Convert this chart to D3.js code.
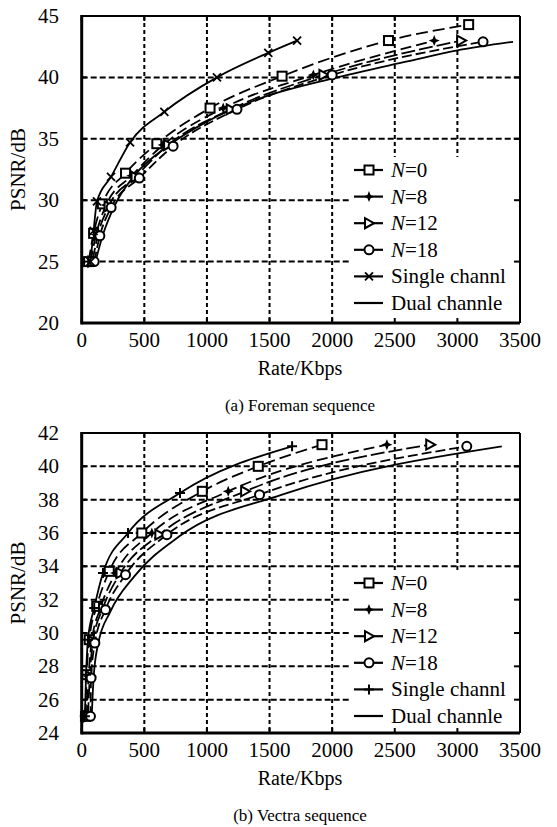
<!DOCTYPE html>
<html><head><meta charset="utf-8">
<script src="https://cdn.jsdelivr.net/npm/d3@7"></script>
<style>
body{margin:0;background:#fff}
</style>
</head><body><svg id="c" width="557" height="827"></svg>
<script>
// ---------- DATA ----------
const xTicks = [0, 500, 1000, 1500, 2000, 2500, 3000, 3500];
const foremanYTicks = [20, 25, 30, 35, 40, 45];
const vectraYTicks = [24, 26, 28, 30, 32, 34, 36, 38, 40, 42];
const seriesNames = ["N=0", "N=8", "N=12", "N=18", "Single channl", "Dual channle"];

// Foreman sequence
const foremanN0Rate = [55, 95, 165, 350, 600, 1025, 1600, 2450, 3090];
const foremanN0Psnr = [25, 27.3, 29.7, 32.2, 34.6, 37.5, 40.1, 43.0, 44.3];
const foremanN8Rate = [70, 115, 195, 400, 650, 1130, 1850, 2815];
const foremanN8Psnr = [25, 27.2, 29.6, 32.0, 34.5, 37.5, 40.2, 43.0];
const foremanN12Rate = [85, 130, 215, 430, 690, 1190, 1930, 3030];
const foremanN12Psnr = [25, 27.2, 29.5, 31.9, 34.5, 37.4, 40.2, 43.0];
const foremanN18Rate = [100, 145, 235, 460, 730, 1240, 2000, 3205];
const foremanN18Psnr = [25, 27.1, 29.4, 31.8, 34.4, 37.4, 40.2, 42.9];
const foremanSingleRate = [70, 95, 122, 234, 386, 660, 1080, 1490, 1720];
const foremanSinglePsnr = [25, 27.5, 29.9, 31.9, 34.7, 37.2, 40.0, 42.0, 43.0];
const foremanDualRate = [110, 170, 260, 420, 700, 1000, 1400, 2000, 2600, 3000, 3445];
const foremanDualPsnr = [25, 27.2, 29.5, 32.0, 34.5, 36.4, 38.2, 39.9, 41.3, 42.2, 42.9];

// Vectra sequence
const vectraN0Rate = [30, 40, 60, 120, 220, 480, 963, 1410, 1919];
const vectraN0Psnr = [25, 27.5, 29.6, 31.6, 33.7, 36.0, 38.5, 40.0, 41.3];
const vectraN8Rate = [40, 55, 80, 150, 270, 560, 1170, 2437];
const vectraN8Psnr = [25, 27.4, 29.5, 31.5, 33.6, 36.0, 38.5, 41.3];
const vectraN12Rate = [50, 65, 90, 170, 310, 620, 1305, 2783];
const vectraN12Psnr = [25, 27.4, 29.5, 31.5, 33.6, 35.9, 38.5, 41.3];
const vectraN18Rate = [70, 75, 105, 190, 350, 680, 1420, 3075];
const vectraN18Psnr = [25, 27.3, 29.4, 31.4, 33.5, 35.9, 38.3, 41.2];
const vectraSingleRate = [25, 35, 50, 100, 170, 370, 785, 1680];
const vectraSinglePsnr = [25, 27.5, 29.6, 31.5, 33.6, 36.0, 38.4, 41.2];
const vectraDualRate = [80, 95, 130, 230, 420, 780, 1600, 3355];
const vectraDualPsnr = [25, 27.3, 29.3, 31.3, 33.4, 35.8, 38.3, 41.2];

// ---------- DRAWING ----------
const FONT = '"Liberation Serif", "Times New Roman", serif';
const svg = d3.select("#c");
const zip = (a, b) => a.map((v, i) => [v, b[i]]);

function drawMarker(g, type, x, y) {
  if (type === "square") {
    g.append("rect").attr("x", x - 4.5).attr("y", y - 4.5).attr("width", 9).attr("height", 9)
      .attr("fill", "#fff").attr("stroke", "#000").attr("stroke-width", 2);
  } else if (type === "star") {
    g.append("path").attr("transform", `translate(${x},${y})`)
      .attr("d", "M0,-5.5L1.6,-1.6L5.5,0L1.6,1.6L0,5.5L-1.6,1.6L-5.5,0L-1.6,-1.6Z").attr("fill", "#000");
  } else if (type === "tri") {
    g.append("path").attr("transform", `translate(${x},${y})`)
      .attr("d", "M-4,-5L5,0L-4,5Z").attr("fill", "#fff").attr("stroke", "#000").attr("stroke-width", 2);
  } else if (type === "circle") {
    g.append("circle").attr("cx", x).attr("cy", y).attr("r", 4.5)
      .attr("fill", "#fff").attr("stroke", "#000").attr("stroke-width", 2);
  } else if (type === "x") {
    g.append("path").attr("d", `M${x-4},${y-4}L${x+4},${y+4}M${x-4},${y+4}L${x+4},${y-4}`)
      .attr("stroke", "#000").attr("stroke-width", 1.8);
  } else if (type === "plus") {
    g.append("path").attr("d", `M${x-5},${y}L${x+5},${y}M${x},${y-5}L${x},${y+5}`)
      .attr("stroke", "#000").attr("stroke-width", 2);
  }
}

function txt(g, size) {
  return g.append("text").style("font-family", FONT).attr("font-size", size).attr("fill", "#000");
}

function drawChart(cfg) {
  const L = 81.7, R = 520, T = cfg.top, B = cfg.bottom;
  const x = d3.scaleLinear().domain([0, 3500]).range([L, R]);
  const y = d3.scaleLinear().domain(cfg.yDomain).range([B, T]);
  const g = svg.append("g");

  // gridlines
  g.selectAll(".hg").data(cfg.yTicks.slice(1, -1)).join("line")
    .attr("x1", L).attr("x2", R).attr("y1", d => y(d)).attr("y2", d => y(d))
    .attr("stroke", "#000").attr("stroke-width", 2).attr("stroke-dasharray", "6,3");
  g.selectAll(".vg").data(xTicks.slice(1, -1)).join("line")
    .attr("x1", d => x(d)).attr("x2", d => x(d)).attr("y1", T).attr("y2", B)
    .attr("stroke", "#000").attr("stroke-width", 2).attr("stroke-dasharray", "4,3");

  // series
  const line = d3.line().x(d => x(d[0])).y(d => y(d[1])).curve(d3.curveMonotoneX);
  cfg.series.forEach(s => {
    g.append("path").datum(s.data).attr("d", line).attr("fill", "none")
      .attr("stroke", "#000").attr("stroke-width", 1.8)
      .attr("stroke-dasharray", s.dash || null);
  });
  cfg.series.forEach(s => {
    if (!s.marker) return;
    s.data.forEach(d => drawMarker(g, s.marker, x(d[0]), y(d[1])));
  });

  // legend box
  const lgTop = T + cfg.legendOffset;
  g.append("rect").attr("x", 350).attr("y", lgTop).attr("width", R - 1 - 350).attr("height", B - 1.5 - lgTop)
    .attr("fill", "#fff");
  cfg.series.forEach((s, i) => {
    const ly = T + cfg.legendFirst + i * 26.6;
    g.append("line").attr("x1", 354).attr("x2", 383).attr("y1", ly).attr("y2", ly)
      .attr("stroke", "#000").attr("stroke-width", 2.2);
    if (s.marker) drawMarker(g, s.marker, 369, ly);
    const t = txt(g, 21).attr("x", 391).attr("y", ly + 7);
    if (s.name.startsWith("N=")) {
      t.append("tspan").attr("font-style", "italic").text("N");
      t.append("tspan").text(s.name.slice(1));
    } else t.text(s.name);
  });

  // inner ticks
  const tk = g.append("g").attr("stroke", "#000").attr("stroke-width", 2);
  xTicks.forEach(v => {
    tk.append("line").attr("x1", x(v)).attr("x2", x(v)).attr("y1", B).attr("y2", B - 5);
    tk.append("line").attr("x1", x(v)).attr("x2", x(v)).attr("y1", T).attr("y2", T + 5);
  });
  cfg.yTicks.forEach(v => {
    tk.append("line").attr("x1", R).attr("x2", R - 6).attr("y1", y(v)).attr("y2", y(v));
    tk.append("line").attr("x1", L).attr("x2", L + 5).attr("y1", y(v)).attr("y2", y(v));
  });

  // frame
  g.append("line").attr("x1", L).attr("x2", R).attr("y1", T).attr("y2", T).attr("stroke", "#000").attr("stroke-width", 2);
  g.append("line").attr("x1", R).attr("x2", R).attr("y1", T).attr("y2", B).attr("stroke", "#000").attr("stroke-width", 2);
  g.append("line").attr("x1", L).attr("x2", R).attr("y1", B).attr("y2", B).attr("stroke", "#000").attr("stroke-width", 3);
  g.append("line").attr("x1", L).attr("x2", L).attr("y1", T - 1).attr("y2", B + 1.5).attr("stroke", "#000").attr("stroke-width", 3);

  // tick labels
  cfg.yTicks.forEach(v => {
    txt(g, 21).attr("x", 59).attr("y", y(v) + 7).attr("text-anchor", "end").text(v);
  });
  xTicks.forEach(v => {
    txt(g, 21).attr("x", x(v)).attr("y", B + 24).attr("text-anchor", "middle").text(v);
  });

  // titles
  txt(g, 20).attr("x", 300).attr("y", B + 52).attr("text-anchor", "middle").text("Rate/Kbps");
  txt(g, 21).attr("transform", `translate(25,${(T + B) / 2}) rotate(-90)`)
    .attr("text-anchor", "middle").text("PSNR/dB");
  txt(g, 17).attr("x", 300).attr("y", B + 88).attr("text-anchor", "middle").text(cfg.caption);
}

drawChart({
  top: 16, bottom: 323, yDomain: [20, 45], yTicks: foremanYTicks,
  legendOffset: 141, legendFirst: 154, caption: "(a) Foreman sequence",
  series: [
    { name: seriesNames[0], data: zip(foremanN0Rate, foremanN0Psnr), marker: "square", dash: "12,5" },
    { name: seriesNames[1], data: zip(foremanN8Rate, foremanN8Psnr), marker: "star", dash: "11,5" },
    { name: seriesNames[2], data: zip(foremanN12Rate, foremanN12Psnr), marker: "tri", dash: "14,4" },
    { name: seriesNames[3], data: zip(foremanN18Rate, foremanN18Psnr), marker: "circle", dash: "10,4" },
    { name: seriesNames[4], data: zip(foremanSingleRate, foremanSinglePsnr), marker: "x" },
    { name: seriesNames[5], data: zip(foremanDualRate, foremanDualPsnr) }
  ]
});

drawChart({
  top: 433, bottom: 733, yDomain: [24, 42], yTicks: vectraYTicks,
  legendOffset: 137, legendFirst: 150, caption: "(b) Vectra sequence",
  series: [
    { name: seriesNames[0], data: zip(vectraN0Rate, vectraN0Psnr), marker: "square", dash: "12,5" },
    { name: seriesNames[1], data: zip(vectraN8Rate, vectraN8Psnr), marker: "star", dash: "11,5" },
    { name: seriesNames[2], data: zip(vectraN12Rate, vectraN12Psnr), marker: "tri", dash: "14,4" },
    { name: seriesNames[3], data: zip(vectraN18Rate, vectraN18Psnr), marker: "circle", dash: "10,4" },
    { name: seriesNames[4], data: zip(vectraSingleRate, vectraSinglePsnr), marker: "plus" },
    { name: seriesNames[5], data: zip(vectraDualRate, vectraDualPsnr) }
  ]
});
</script></body></html>
